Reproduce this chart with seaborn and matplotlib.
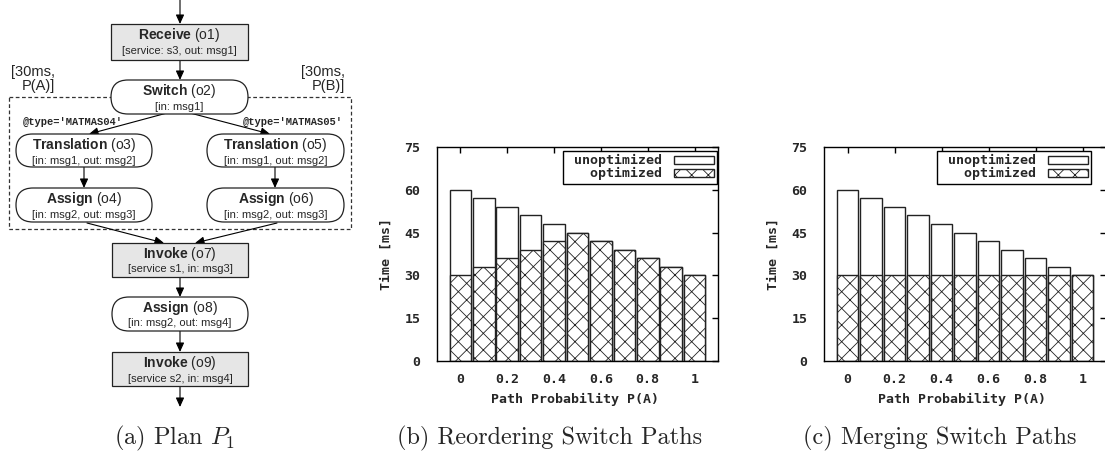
import matplotlib
matplotlib.use("Agg")
import matplotlib.pyplot as plt
import seaborn as sns
from matplotlib.patches import FancyBboxPatch, Rectangle, Patch
from matplotlib.font_manager import FontProperties

# --- data ---
path_prob = [0.0, 0.1, 0.2, 0.3, 0.4, 0.5, 0.6, 0.7, 0.8, 0.9, 1.0]
reorder_unopt = [60, 57, 54, 51, 48, 45, 42, 39, 36, 33, 30]
reorder_opt = [30, 33, 36, 39, 42, 45, 42, 39, 36, 33, 30]
merge_unopt = [60, 57, 54, 51, 48, 45, 42, 39, 36, 33, 30]
merge_opt = [30, 30, 30, 30, 30, 30, 30, 30, 30, 30, 30]
x_ticks = [0, 0.2, 0.4, 0.6, 0.8, 1]
x_ticklabels = ["0", "0.2", "0.4", "0.6", "0.8", "1"]
y_ticks = [0, 15, 30, 45, 60, 75]
series_labels = [" unoptimized", "   optimized"]

sns.set_theme(style="white")
plt.rcParams['font.family'] = ['DejaVu Sans Mono']
plt.rcParams['font.weight'] = 'bold'
plt.rcParams['hatch.linewidth'] = 0.6
plt.rcParams['mathtext.fontset'] = 'custom'
plt.rcParams['mathtext.rm'] = 'Liberation Sans'
plt.rcParams['mathtext.bf'] = 'Liberation Sans:bold'

W, H = 1105, 453
fig = plt.figure(figsize=(W / 100, H / 100), dpi=100)
fig.patch.set_facecolor('white')

# ---------------- (a) plan diagram ----------------
axd = fig.add_axes([0, 0, 360 / W, 1])
axd.set_xlim(0, 360)
axd.set_ylim(H, 0)
axd.axis('off')

GRAY = '#e6e6e6'
SANS = 'Liberation Sans'


def node(x0, y0, x1, y1, title, sub, rect):
    h = y1 - y0
    if rect:
        style = "square,pad=0"
        fc = GRAY
    else:
        style = f"round,pad=0,rounding_size={h / 2}"
        fc = 'white'
    axd.add_patch(FancyBboxPatch((x0, y0), x1 - x0, h, boxstyle=style,
                                 fc=fc, ec='#222222', lw=0.9, zorder=3))
    cx = (x0 + x1) / 2
    axd.text(cx, y0 + 11, title, ha='center', va='center', family=SANS,
             weight='normal', fontsize=10, zorder=4)
    axd.text(cx, y0 + 26.5, sub, ha='center', va='center', family=SANS,
             weight='normal', fontsize=8, zorder=4)


def arrow(x0, y0, x1, y1):
    axd.annotate('', xy=(x1, y1), xytext=(x0, y0),
                 arrowprops=dict(arrowstyle='-|>,head_length=0.55,head_width=0.25',
                                 lw=0.8, color='black', shrinkA=0, shrinkB=0,
                                 mutation_scale=10), zorder=2)


# dashed switch region
axd.add_patch(Rectangle((9, 97), 342, 132, fill=False, ec='#333333', lw=0.9,
                        ls=(0, (3, 2)), zorder=1))

node(111, 24, 248, 60, r"$\mathbf{Receive}$ (o1)", "[service: s3, out: msg1]", True)
node(111, 80, 248, 114, r"$\mathbf{Switch}$ (o2)", "[in: msg1]", False)
node(16, 134, 152, 167, r"$\mathbf{Translation}$ (o3)", "[in: msg1, out: msg2]", False)
node(207, 134, 344, 167, r"$\mathbf{Translation}$ (o5)", "[in: msg1, out: msg2]", False)
node(16, 188, 152, 222, r"$\mathbf{Assign}$ (o4)", "[in: msg2, out: msg3]", False)
node(207, 188, 344, 222, r"$\mathbf{Assign}$ (o6)", "[in: msg2, out: msg3]", False)
node(112, 243, 248, 277, r"$\mathbf{Invoke}$ (o7)", "[service s1, in: msg3]", True)
node(112, 297, 248, 331, r"$\mathbf{Assign}$ (o8)", "[in: msg2, out: msg4]", False)
node(112, 352, 248, 386, r"$\mathbf{Invoke}$ (o9)", "[service s2, in: msg4]", True)

arrow(180, 0, 180, 24)
arrow(180, 60, 180, 80)
arrow(167, 113, 89, 134)
arrow(190, 113, 270, 134)
arrow(84, 167, 84, 188)
arrow(275, 167, 275, 188)
arrow(87, 223, 164, 243)
arrow(277, 223, 195, 243)
arrow(180, 277, 180, 297)
arrow(180, 331, 180, 352)
arrow(180, 386, 180, 407)

axd.text(55, 79, "[30ms,\nP(A)]", ha='right', va='center', multialignment='right',
         family=SANS, weight='normal', fontsize=10.5, linespacing=1.0)
axd.text(345, 79, "[30ms,\nP(B)]", ha='right', va='center', multialignment='right',
         family=SANS, weight='normal', fontsize=10.5, linespacing=1.0)
axd.text(23, 122, "@type='MATMAS04'", ha='left', va='center',
         family='Liberation Mono', weight='bold', fontsize=7.5, zorder=4)
axd.text(343, 122, "@type='MATMAS05'", ha='right', va='center',
         family='Liberation Mono', weight='bold', fontsize=7.5, zorder=4)

# ---------------- (b), (c) bar charts ----------------
mono = FontProperties(family='DejaVu Sans Mono', weight='bold', size=9.5)


def bar_panel(left_px, width_px, unopt, opt, legend_right):
    ax = fig.add_axes([left_px / W, (H - 361) / H, width_px / W, 214 / H])
    sns.barplot(x=path_prob, y=unopt, native_scale=True, width=0.92,
                color='white', edgecolor='#222222', linewidth=1.0,
                saturation=1, errorbar=None, ax=ax)
    sns.barplot(x=path_prob, y=opt, native_scale=True, width=0.92,
                color='white', edgecolor='#222222', linewidth=1.0,
                saturation=1, errorbar=None, hatch='xx', ax=ax)
    ax.set_xlim(-0.1, 1.1)
    ax.set_ylim(0, 75)
    ax.set_xticks(x_ticks)
    ax.set_xticklabels(x_ticklabels, fontproperties=mono)
    ax.set_yticks(y_ticks)
    ax.set_yticklabels([str(v) for v in y_ticks], fontproperties=mono)
    ax.set_axisbelow(True)
    ax.tick_params(direction='in', top=True, right=True, length=4, width=1,
                   color='black')
    ax.tick_params(axis='y', pad=12)
    ax.tick_params(axis='x', pad=8.5)
    for s in ax.spines.values():
        s.set_color('black')
        s.set_linewidth(1.0)
        s.set_zorder(3)
    ax.set_xlabel("Path Probability P(A)", fontproperties=mono)
    ax.set_ylabel("Time [ms]", fontproperties=mono)
    ax.xaxis.set_label_coords(0.49, -0.15)
    ax.yaxis.set_label_coords(-0.157, 0.5)
    handles = [Patch(facecolor='white', edgecolor='#222222', lw=1.0),
               Patch(facecolor='white', edgecolor='#222222', lw=1.0, hatch='xx')]
    leg = ax.legend(handles, series_labels, loc='upper right',
                    bbox_to_anchor=(legend_right, 1 - 4 / 214), borderaxespad=0,
                    markerfirst=False, prop=mono, handlelength=3.0,
                    handleheight=0.55, handletextpad=0.9, labelspacing=0.0,
                    borderpad=0.25, fancybox=False, framealpha=1)
    leg.get_frame().set_edgecolor('black')
    leg.get_frame().set_linewidth(1.0)
    return ax


bar_panel(437, 281, reorder_unopt, reorder_opt, 0.997)
bar_panel(824, 282, merge_unopt, merge_opt, 0.947)

# ---------------- captions ----------------
cap_y = (H - 444) / H
for cx, txt in [(174, r"(a) Plan $P_1$"),
                (550, "(b) Reordering Switch Paths"),
                (940, "(c) Merging Switch Paths")]:
    fig.text(cx / W, cap_y, txt, ha='center', va='baseline', family='cmr10',
             weight='normal', fontsize=17.5, math_fontfamily='cm')

fig.savefig("out.png", dpi=100, facecolor='white')
